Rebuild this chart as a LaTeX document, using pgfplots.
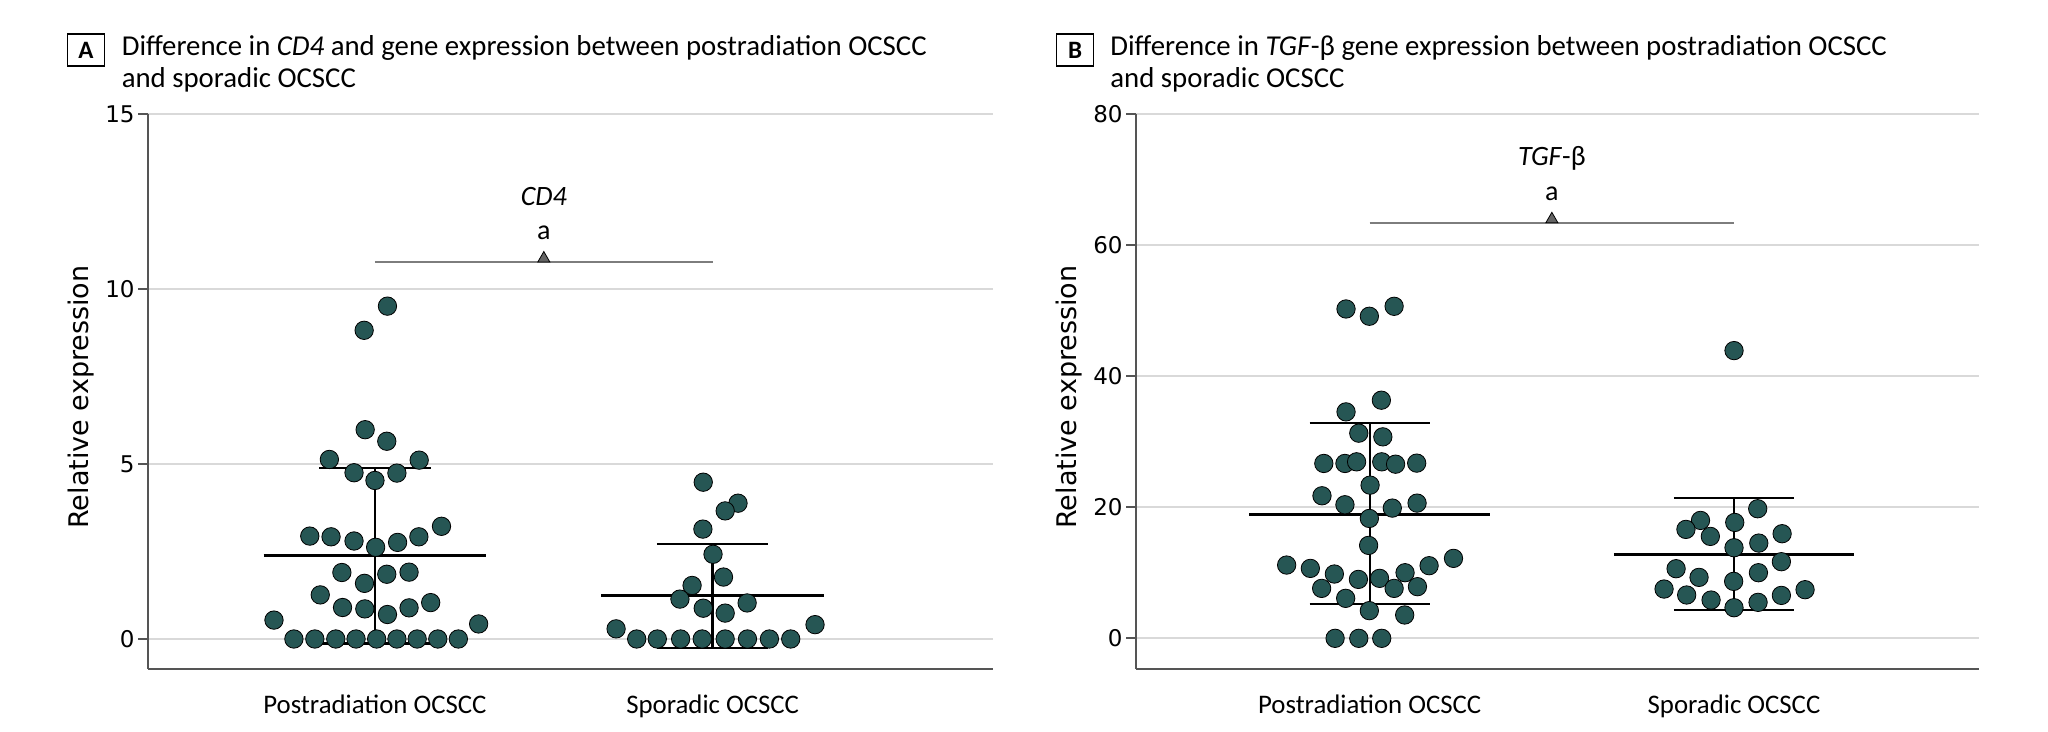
\documentclass[border=0pt]{standalone}
\usepackage{pgfplots}
\pgfplotsset{compat=1.18}
\usepackage{pgfplotstable}
\usepackage{fontspec}
\setmainfont{Carlito}
\newfontfamily\dejavu{DejaVu Sans}

\definecolor{dot}{RGB}{38,86,84}
\definecolor{gridc}{RGB}{217,217,217}
\definecolor{axisc}{RGB}{85,85,85}
\definecolor{annc}{RGB}{125,125,125}
\definecolor{anntri}{RGB}{100,100,100}

% panel A, CD4 (x = category + jitter)
\pgfplotstableread{
x y
0.037 9.51
-0.032 8.82
-0.029 5.98
0.035 5.65
-0.135 5.13
0.131 5.11
-0.062 4.75
0.065 4.74
0.000 4.53
0.197 3.22
-0.193 2.94
-0.130 2.92
-0.062 2.80
0.130 2.92
0.067 2.76
0.002 2.62
-0.098 1.90
0.035 1.85
0.101 1.91
-0.031 1.59
-0.162 1.26
0.165 1.04
-0.096 0.90
-0.030 0.86
0.101 0.89
0.037 0.70
-0.299 0.54
0.307 0.43
-0.240 0
-0.178 0
-0.116 0
-0.056 0
0.005 0
0.065 0
0.125 0
0.186 0
0.247 0
}\aPost
\pgfplotstableread{
x y
0.972 4.48
1.075 3.88
1.037 3.66
0.971 3.14
1.001 2.42
1.032 1.77
0.939 1.53
0.903 1.14
1.102 1.03
0.972 0.88
1.037 0.74
0.714 0.29
1.303 0.41
0.775 0
0.836 0
0.905 0
0.969 0
1.037 0
1.103 0
1.168 0
1.231 0
}\aSpor

% panel B, TGF-beta
\pgfplotstableread{
x y
-0.065 50.25
-0.001 49.14
0.067 50.66
0.032 36.33
-0.065 34.55
-0.030 31.30
0.036 30.74
-0.126 26.68
-0.068 26.68
-0.036 26.93
0.033 26.93
0.071 26.57
0.129 26.73
0.001 23.37
-0.131 21.75
-0.068 20.38
0.062 19.87
0.130 20.63
-0.001 18.29
-0.003 14.18
-0.228 11.18
-0.163 10.67
0.230 12.20
0.163 11.08
-0.097 9.81
-0.031 8.99
0.027 9.15
0.097 10.01
-0.132 7.62
0.067 7.62
0.131 7.88
-0.066 6.10
-0.001 4.22
0.096 3.56
-0.095 0
-0.030 0
0.033 0
}\bPost
\pgfplotstableread{
x y
1.000 43.90
1.065 19.77
0.908 17.99
0.868 16.62
1.002 17.68
0.935 15.55
1.132 15.96
1.068 14.53
1.000 13.82
1.130 11.69
0.841 10.62
0.904 9.30
1.067 10.01
0.999 8.69
0.808 7.52
0.870 6.61
0.937 5.84
1.000 4.67
1.066 5.49
1.130 6.55
1.195 7.42
}\bSpor

\pgfplotsset{
  panel/.style={
    scale only axis, height=277.5pt, anchor=south west,
    axis x line*=bottom, axis y line*=left,
    axis line style={draw=axisc, line width=0.9pt},
    xtick={0,1}, xticklabels={Postradiation OCSCC, Sporadic OCSCC},
    xtick style={draw=none},
    ymajorgrids, grid style={gridc, line width=1pt},
    ytick style={axisc, line width=0.9pt},
    tick align=outside, major tick length=5pt,
    /pgf/number format/assume math mode=true,
    yticklabel style={font=\dejavu\fontsize{11.5}{12}\selectfont, inner sep=1.5pt},
    xticklabel style={font=\fontsize{13.4}{14}\selectfont, anchor=base, yshift=-17.5pt},
    ylabel={Relative expression},
    every axis y label/.style={at={(axis description cs:-0.079,0.49)}, rotate=90,
      anchor=center, font=\dejavu\fontsize{13.5}{14}\selectfont},
    clip=false,
  },
  dots/.style={only marks, mark=*, mark size=4.6pt, mark options={fill=dot, draw=none}},
  bar/.style={black, line width=1.2pt},
}

\begin{document}
\begin{tikzpicture}
\path[use as bounding box] (0,0) rectangle (1024pt,366pt);

% titles
\node[draw, line width=0.8pt, minimum width=18.5pt, minimum height=16pt, inner sep=0,
  font=\bfseries\fontsize{12.5}{12.5}\selectfont] at (43pt,341pt) {A};
\node[anchor=base west, inner sep=0, font=\fontsize{14.4}{15}\selectfont] at (60.7pt,338pt)
  {Difference in \textit{CD4} and gene expression between postradiation OCSCC};
\node[anchor=base west, inner sep=0, font=\fontsize{14.4}{15}\selectfont] at (60.7pt,322.3pt)
  {and sporadic OCSCC};
\node[draw, line width=0.8pt, minimum width=18.5pt, minimum height=16pt, inner sep=0,
  font=\bfseries\fontsize{12.5}{12.5}\selectfont] at (537.5pt,341pt) {B};
\node[anchor=base west, inner sep=0, font=\fontsize{14.4}{15}\selectfont] at (555pt,338pt)
  {Difference in \textit{TGF}-β gene expression between postradiation OCSCC};
\node[anchor=base west, inner sep=0, font=\fontsize{14.4}{15}\selectfont] at (555pt,322.3pt)
  {and sporadic OCSCC};

\begin{axis}[panel, at={(74pt,31.5pt)}, width=422.5pt,
  xmin=-0.672, xmax=1.830, ymin=-0.857, ymax=15, ytick={0,5,10,15}]
  % mean and SD
  \addplot[bar] coordinates {(-0.33,2.38) (0.33,2.38)};
  \addplot[bar] coordinates {(-0.165,4.89) (0.165,4.89)};
  \addplot[bar] coordinates {(-0.165,-0.13) (0.165,-0.13)};
  \addplot[bar] coordinates {(0,-0.13) (0,4.89)};
  \addplot[bar] coordinates {(0.67,1.24) (1.33,1.24)};
  \addplot[bar] coordinates {(0.835,2.71) (1.165,2.71)};
  \addplot[bar] coordinates {(0.835,-0.26) (1.165,-0.26)};
  \addplot[bar] coordinates {(1,-0.26) (1,2.71)};
  \addplot[dots] table {\aPost};
  \addplot[dots] table {\aSpor};
  % significance
  \addplot[annc, line width=1pt] coordinates {(0,10.77) (1,10.77)};
  \addplot[only marks, mark=triangle*, mark size=3.5pt, mark options={fill=anntri, draw=none}]
    coordinates {(0.5,10.87)};
  \node[font=\fontsize{14}{14}\selectfont] at (axis cs:0.5,11.6) {a};
  \node[font=\fontsize{14}{14}\selectfont] at (axis cs:0.5,12.63) {\textit{CD4}};
\end{axis}

\begin{axis}[panel, at={(568pt,31.5pt)}, width=421.5pt,
  xmin=-0.6415, xmax=1.6725, ymin=-4.68, ymax=80, ytick={0,20,40,60,80}]
  \addplot[bar] coordinates {(-0.33,18.9) (0.33,18.9)};
  \addplot[bar] coordinates {(-0.165,32.83) (0.165,32.83)};
  \addplot[bar] coordinates {(-0.165,5.23) (0.165,5.23)};
  \addplot[bar] coordinates {(0,5.23) (0,32.83)};
  \addplot[bar] coordinates {(0.67,12.8) (1.33,12.8)};
  \addplot[bar] coordinates {(0.835,21.39) (1.165,21.39)};
  \addplot[bar] coordinates {(0.835,4.32) (1.165,4.32)};
  \addplot[bar] coordinates {(1,4.32) (1,21.39)};
  \addplot[dots] table {\bPost};
  \addplot[dots] table {\bSpor};
  \addplot[annc, line width=1pt] coordinates {(0,63.4) (1,63.4)};
  \addplot[only marks, mark=triangle*, mark size=3.5pt, mark options={fill=anntri, draw=none}]
    coordinates {(0.5,63.93)};
  \node[font=\fontsize{14}{14}\selectfont] at (axis cs:0.5,67.8) {a};
  \node[font=\fontsize{14}{14}\selectfont] at (axis cs:0.5,73.3) {\textit{TGF}-β};
\end{axis}
\end{tikzpicture}
\end{document}
